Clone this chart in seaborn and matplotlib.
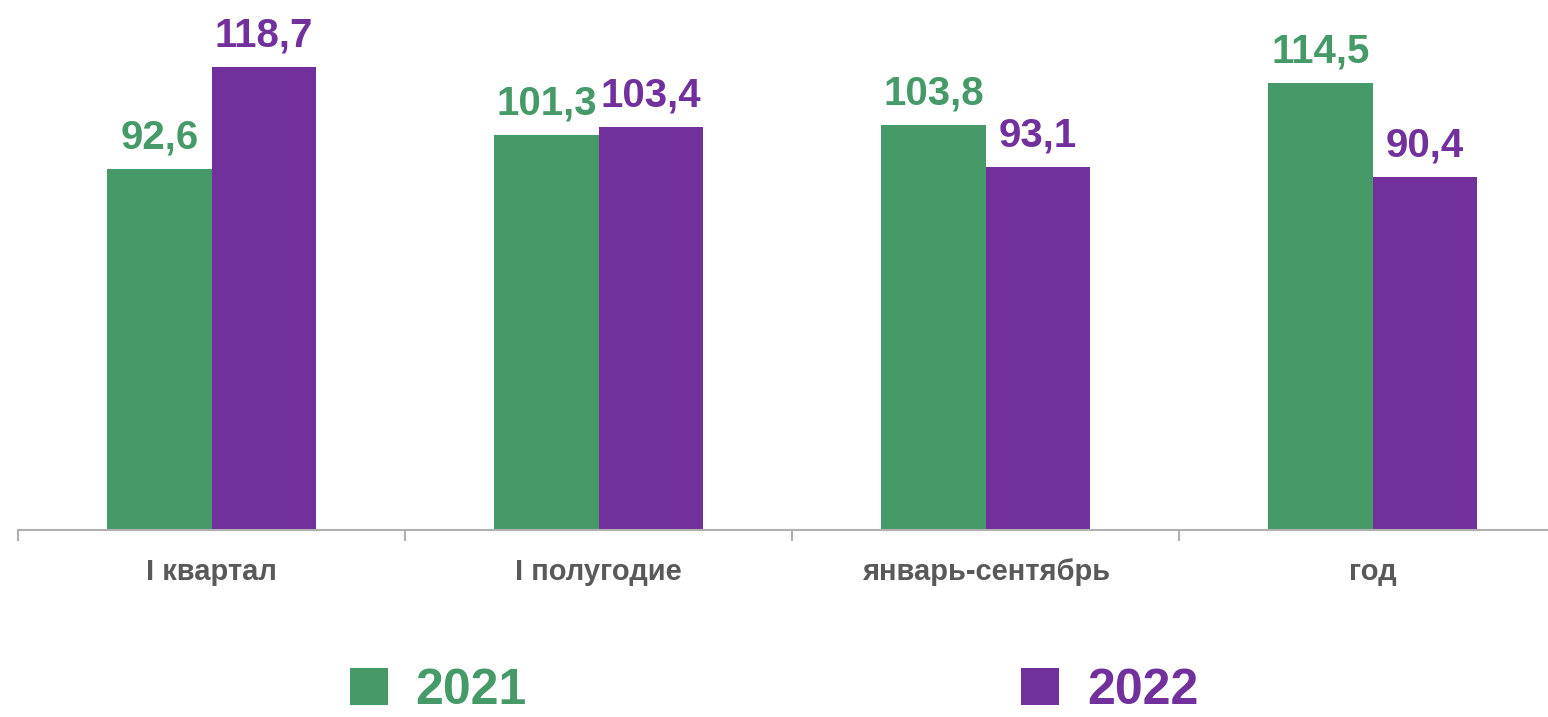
import matplotlib
matplotlib.use('Agg')
import matplotlib.pyplot as plt
from matplotlib.patches import Patch
import pandas as pd
import seaborn as sns

periods = ['I квартал', 'I полугодие', 'январь-сентябрь', 'год']
years = ['2021', '2022']
vals_2021 = [92.6, 101.3, 103.8, 114.5]
vals_2022 = [118.7, 103.4, 93.1, 90.4]
colors = {'2021': '#459A68', '2022': '#71309B'}

df = pd.DataFrame({
    'period': periods * 2,
    'year': ['2021'] * 4 + ['2022'] * 4,
    'value': vals_2021 + vals_2022,
})

sns.set_style('white')
plt.rcParams['font.family'] = ['Liberation Sans', 'DejaVu Sans']

fig = plt.figure(figsize=(15.48, 7.17), dpi=100)
ax = fig.add_axes([18 / 1548, 187 / 717, 1 - 18 / 1548, 1 - 187 / 717])

sns.barplot(data=df, x='period', y='value', hue='year', palette=colors,
            width=0.54, saturation=1, linewidth=0, ax=ax, legend=False)

for cont, yr in zip(ax.containers, years):
    labs = [f'{v:.1f}'.replace('.', ',') for v in cont.datavalues]
    ax.bar_label(cont, labels=labs, padding=9, fontsize=29, fontweight='bold',
                 color=colors[yr])

ax.set_xlim(-0.5, 3.453)
ax.set_ylim(0, 135.9)
ax.set_xlabel('')
ax.set_ylabel('')
ax.set_yticks([])
for s in ['top', 'right', 'left']:
    ax.spines[s].set_visible(False)
ax.spines['bottom'].set_color('#B0B0B0')
ax.spines['bottom'].set_linewidth(1.5)

ax.set_xticks([0, 1, 2, 3])
ax.set_xticklabels(periods, fontsize=21, fontweight='bold', color='#595959')
ax.tick_params(axis='x', which='major', length=0, pad=20)
ax.set_xticks([-0.5, 0.5, 1.5, 2.5], minor=True)
ax.tick_params(axis='x', which='minor', bottom=True, direction='out', length=8,
               width=1.5, color='#B0B0B0')

handles = [Patch(facecolor=colors[y], edgecolor='none') for y in years]
leg = fig.legend(handles, years, loc='lower center', bbox_to_anchor=(0.5, -0.058),
                 ncol=2, frameon=False, handlelength=0.76,
                 handleheight=0.76, handletextpad=0.55, columnspacing=9.9,
                 prop={'weight': 'bold', 'size': 36})
for t, y in zip(leg.get_texts(), years):
    t.set_color(colors[y])

fig.savefig('out.png', dpi=100)
